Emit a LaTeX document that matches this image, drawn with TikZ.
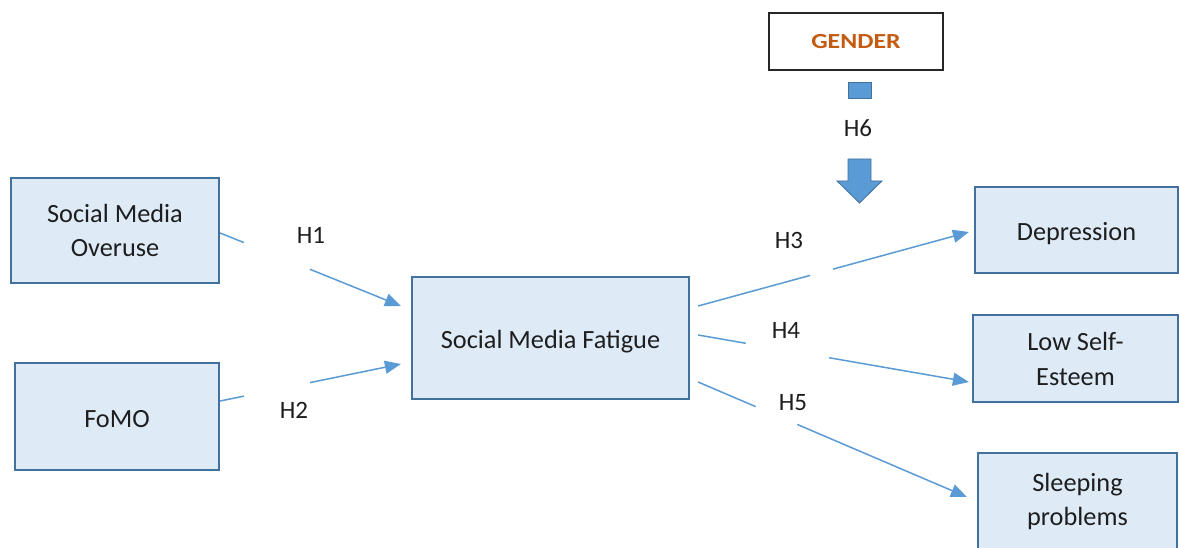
\documentclass[tikz,border=0pt]{standalone}
\usepackage{fontspec}
\setmainfont{Carlito}
\usetikzlibrary{calc,arrows.meta}
\definecolor{boxfill}{HTML}{DEEBF7}
\definecolor{boxline}{HTML}{41719C}
\definecolor{arrline}{HTML}{5B9BD5}
\definecolor{txt}{HTML}{1E1E1E}
\definecolor{gendertxt}{HTML}{C55A11}
\tikzset{
  varbox/.style={draw=boxline, line width=2.2pt, fill=boxfill, inner sep=0pt,
    align=center, text=txt, font=\fontsize{26.3}{34.5}\selectfont},
  hlabel/.style={text=txt, font=\fontsize{25}{30}\selectfont, inner sep=0pt},
  conn/.style={draw=arrline, line width=1.5pt},
  connarrow/.style={conn, -{Triangle[length=16pt,width=13pt]}},
  blockarrow/.style={fill=arrline, draw=boxline, line width=0.8pt}
}
\newcommand{\lowr}[2]{\raisebox{-#1pt}[\height][\depth]{#2}}
\begin{document}
\begin{tikzpicture}[x=1pt,y=-1pt]
\useasboundingbox (0,0) rectangle (1179,548);
\clip (0,0) rectangle (1179,548);
\fill[white] (0,0) rectangle (1179,548);

% boxes
\node[varbox, minimum width=208pt, minimum height=105pt] (ov) at (115,230.5) {Social Media\\Overuse};
\node[varbox, minimum width=204pt, minimum height=107pt] (fomo) at (117,416.5) {\lowr{3}{FoMO}};
\node[varbox, minimum width=277pt, minimum height=122pt] (smf) at (550.5,338) {\lowr{3.5}{Social Media Fatigue}};
\node[varbox, minimum width=203pt, minimum height=86pt] (dep) at (1076.5,230) {\lowr{3.5}{Depression}};
\node[varbox, minimum width=205pt, minimum height=87pt] (lse) at (1075.5,358.5)
  {\lowr{2.5}{\begin{tabular}{@{}c@{}}Low Self-\\Esteem\end{tabular}}};
\node[varbox, minimum width=199pt, minimum height=97pt] (slp) at (1077.5,501.5) {Sleeping\\problems};

% gender box
\node[draw=black!85, line width=1.3pt, fill=white, minimum width=174pt, minimum height=57pt,
  inner sep=0pt, text=gendertxt, font=\fontsize{21.5}{26}\selectfont\bfseries] (gen) at (856,41.5)
  {\scalebox{1.2}[1]{GENDER}};

% block arrow (moderator)
\path[blockarrow] (848,82) rectangle (871,98);
\path[blockarrow] (848,159) -- (871,159) -- (871,181) -- (882,181) -- (859.5,203)
  -- (837,181) -- (848,181) -- cycle;

% connector end points
\coordinate (h1s) at ($(ov.east)+(0,2.5)$);
\coordinate (h1e) at ($(smf.west)+(-10,-32)$);
\coordinate (h2s) at ($(fomo.east)+(0,-15.5)$);
\coordinate (h2e) at ($(smf.west)+(-10,26)$);
\coordinate (h3s) at ($(smf.east)+(8,-32)$);
\coordinate (h3e) at ($(dep.west)+(-5,2)$);
\coordinate (h4s) at ($(smf.east)+(8,-3)$);
\coordinate (h4e) at ($(lse.west)+(-3,23.5)$);
\coordinate (h5s) at ($(smf.east)+(8,44)$);
\coordinate (h5e) at ($(slp.west)+(-10,-4.5)$);

% connectors (broken around labels)
\draw[conn] (h1s) -- ($(h1s)!0.131!(h1e)$);
\draw[connarrow] ($(h1s)!0.497!(h1e)$) -- (h1e);
\draw[conn] (h2s) -- ($(h2s)!0.131!(h2e)$);
\draw[connarrow] ($(h2s)!0.497!(h2e)$) -- (h2e);
\draw[conn] (h3s) -- ($(h3s)!0.414!(h3e)$);
\draw[connarrow] ($(h3s)!0.498!(h3e)$) -- (h3e);
\draw[conn] (h4s) -- ($(h4s)!0.176!(h4e)$);
\draw[connarrow] ($(h4s)!0.484!(h4e)$) -- (h4e);
\draw[conn] (h5s) -- ($(h5s)!0.214!(h5e)$);
\draw[connarrow] ($(h5s)!0.369!(h5e)$) -- (h5e);

% labels
\node[hlabel] (l1) at (311,235) {H1};
\node[hlabel] (l2) at (294,410) {H2};
\node[hlabel] (l3) at (789,240) {H3};
\node[hlabel] (l4) at (786,330) {H4};
\node[hlabel] (l5) at (793,403) {H5};
\node[hlabel] (l6) at (858,128) {H6};
\end{tikzpicture}
\end{document}
